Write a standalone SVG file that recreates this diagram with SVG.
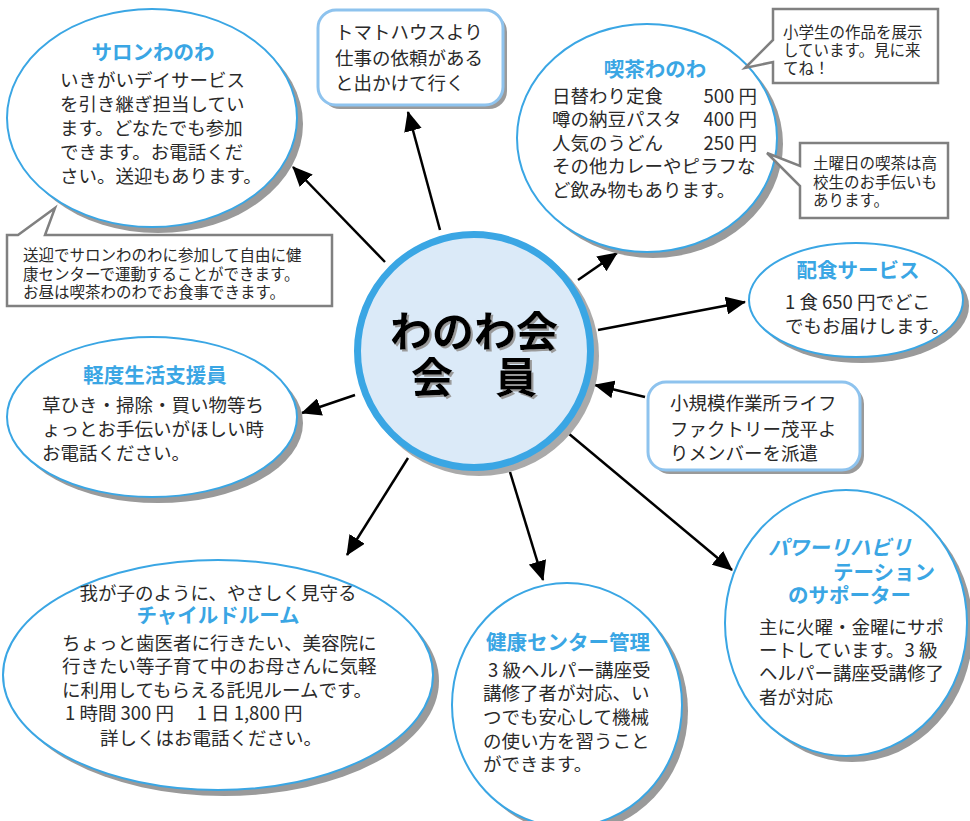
<svg xmlns="http://www.w3.org/2000/svg" width="970" height="821" viewBox="0 0 970 821">
<defs>
<style>
text{font-family:"Noto Sans CJK JP","Noto Sans",sans-serif;}
.body{font-size:18.5px;fill:#2a2a2a;}
.note{font-size:15.5px;fill:#2a2a2a;}
.title{font-size:20.5px;font-weight:700;fill:#3aa6e4;}
.bubble{fill:#fff;stroke:#3aa6e4;stroke-width:2;}
.shadow{fill:#9a9a9a;}
.box{fill:#fff;stroke:#8ec3ee;stroke-width:3;}
.callout{fill:#fff;stroke:#808080;stroke-width:2.5;stroke-linejoin:miter;}
.conn{stroke:#000;stroke-width:2.5;fill:none;marker-end:url(#ah);}
.big{font-size:42px;font-weight:700;fill:#000;filter:url(#ts);}
</style>
<filter id="ts" x="-10%" y="-20%" width="120%" height="140%">
<feDropShadow dx="2" dy="2" stdDeviation="0.6" flood-color="#9a9a9a" flood-opacity="1"/>
</filter>
<marker id="ah" viewBox="0 0 20 18" refX="19" refY="9" markerWidth="20" markerHeight="18" markerUnits="userSpaceOnUse" orient="auto">
<path d="M0,0 L20,9 L0,18 Z" fill="#000"/>
</marker>
</defs>

<g id="connectors">
<line class="conn" x1="385" y1="262" x2="293" y2="167"/>
<line class="conn" x1="440" y1="230" x2="408" y2="112"/>
<line class="conn" x1="578" y1="280" x2="617" y2="253"/>
<line class="conn" x1="598" y1="330" x2="745" y2="302"/>
<line class="conn" x1="645" y1="397" x2="595" y2="385"/>
<line class="conn" x1="355" y1="395" x2="302" y2="413"/>
<line class="conn" x1="408" y1="458" x2="347" y2="555"/>
<line class="conn" x1="510" y1="472" x2="543" y2="580"/>
<line class="conn" x1="568" y1="433" x2="732" y2="570"/>
</g>

<g id="salon">
<ellipse class="shadow" cx="158" cy="124" rx="145" ry="109"/>
<ellipse class="bubble" cx="152" cy="118" rx="145" ry="109"/>
<text class="body"><tspan class="title" x="153" y="60" text-anchor="middle">サロンわのわ</tspan><tspan x="60" y="87">いきがいデイサービス</tspan><tspan x="60" y="111">を引き継ぎ担当してい</tspan><tspan x="60" y="135">ます。どなたでも参加</tspan><tspan x="60" y="159">できます。お電話くだ</tspan><tspan x="60" y="183">さい。送迎もあります。</tspan></text>
</g>

<g id="salon-note">
<path class="callout" d="M7,235 L18,235 L55,208 L45,235 L332,235 L332,306 L7,306 Z"/>
<text class="note"><tspan x="23" y="261">送迎でサロンわのわに参加して自由に健</tspan><tspan x="23" y="280">康センターで運動することができます。</tspan><tspan x="23" y="298">お昼は喫茶わのわでお食事できます。</tspan></text>
</g>

<g id="tomato">
<rect class="shadow" x="322" y="14" width="185" height="95" rx="18"/>
<rect class="box" x="318" y="10" width="185" height="95" rx="18"/>
<text class="body"><tspan x="335" y="39">トマトハウスより</tspan><tspan x="335" y="65">仕事の依頼がある</tspan><tspan x="335" y="90">と出かけて行く</tspan></text>
</g>

<g id="kissa">
<ellipse class="shadow" cx="653" cy="144" rx="130" ry="114"/>
<ellipse class="bubble" cx="647" cy="138" rx="130" ry="114"/>
<text class="body"><tspan class="title" x="655" y="77" text-anchor="middle">喫茶わのわ</tspan><tspan x="552" y="103">日替わり定食</tspan><tspan x="552" y="126">噂の納豆パスタ</tspan><tspan x="552" y="150">人気のうどん</tspan><tspan x="552" y="173">その他カレーやピラフな</tspan><tspan x="552" y="197">ど飲み物もあります。</tspan></text>
<text class="body" text-anchor="end"><tspan x="757" y="103">500 円</tspan><tspan x="757" y="126">400 円</tspan><tspan x="757" y="150">250 円</tspan></text>
</g>

<g id="kissa-note1">
<path class="callout" d="M773,9 L938,9 L938,83 L773,83 L773,62 L745,68 L773,40 Z"/>
<text class="note"><tspan x="783" y="38">小学生の作品を展示</tspan><tspan x="783" y="56">しています。見に来</tspan><tspan x="783" y="74">てね！</tspan></text>
</g>

<g id="kissa-note2">
<path class="callout" d="M800,143 L948,143 L948,218 L800,218 L800,186 L767,153 L800,166 Z"/>
<text class="note"><tspan x="813" y="169">土曜日の喫茶は高</tspan><tspan x="813" y="188">校生のお手伝いも</tspan><tspan x="813" y="206">あります。</tspan></text>
</g>

<g id="haishoku">
<ellipse class="shadow" cx="862" cy="306" rx="107" ry="57"/>
<ellipse class="bubble" cx="856" cy="300" rx="107" ry="57"/>
<text class="body"><tspan class="title" x="858" y="278" text-anchor="middle">配食サービス</tspan><tspan x="785" y="309">1 食 650 円でどこ</tspan><tspan x="785" y="333">でもお届けします。</tspan></text>
</g>

<g id="center">
<circle cx="479" cy="356" r="120" fill="#aaa"/>
<circle cx="474" cy="351" r="116.5" fill="#dbeaf8" stroke="#3aa6e4" stroke-width="7"/>
<text class="big" text-anchor="middle" xml:space="preserve"><tspan x="474" y="347">わのわ会</tspan><tspan x="474" y="393">会　員</tspan></text>
</g>

<g id="keido">
<ellipse class="shadow" cx="158" cy="423" rx="145" ry="80"/>
<ellipse class="bubble" cx="152" cy="417" rx="145" ry="80"/>
<text class="body"><tspan class="title" x="155" y="383" text-anchor="middle">軽度生活支援員</tspan><tspan x="42" y="412">草ひき・掃除・買い物等ち</tspan><tspan x="42" y="436">ょっとお手伝いがほしい時</tspan><tspan x="42" y="460">お電話ください。</tspan></text>
</g>

<g id="lifefactory">
<rect class="shadow" x="652" y="386" width="212" height="88" rx="18"/>
<rect class="box" x="648" y="382" width="212" height="88" rx="18"/>
<text class="body"><tspan x="670" y="410">小規模作業所ライフ</tspan><tspan x="670" y="436">ファクトリー茂平よ</tspan><tspan x="670" y="460">りメンバーを派遣</tspan></text>
</g>

<g id="child">
<ellipse class="shadow" cx="224" cy="681" rx="215" ry="115"/>
<ellipse class="bubble" cx="218" cy="675" rx="215" ry="115"/>
<text class="body" xml:space="preserve"><tspan x="218" y="600" text-anchor="middle">我が子のように、やさしく見守る</tspan><tspan class="title" x="218" y="623" text-anchor="middle">チャイルドルーム</tspan><tspan x="62" y="650">ちょっと歯医者に行きたい、美容院に</tspan><tspan x="62" y="673">行きたい等子育て中のお母さんに気軽</tspan><tspan x="62" y="697">に利用してもらえる託児ルームです。</tspan><tspan x="65" y="720">1 時間 300 円　 1 日 1,800 円</tspan><tspan x="100" y="745">詳しくはお電話ください。</tspan></text>
</g>

<g id="kenko">
<ellipse class="shadow" cx="573" cy="711" rx="115" ry="122"/>
<ellipse class="bubble" cx="567" cy="705" rx="115" ry="122"/>
<text class="body"><tspan class="title" x="568" y="650" text-anchor="middle">健康センター管理</tspan><tspan x="488" y="677">3 級ヘルパー講座受</tspan><tspan x="483" y="700">講修了者が対応、い</tspan><tspan x="483" y="724">つでも安心して機械</tspan><tspan x="483" y="748">の使い方を習うこと</tspan><tspan x="483" y="771">ができます。</tspan></text>
</g>

<g id="powerrehab">
<ellipse class="shadow" cx="852" cy="629" rx="121" ry="133"/>
<ellipse class="bubble" cx="846" cy="623" rx="121" ry="133"/>
<text class="body"><tspan class="title" x="768" y="555" font-style="italic">パワーリハビリ</tspan><tspan class="title" x="833" y="580">テーション</tspan><tspan class="title" x="788" y="603">のサポーター</tspan><tspan x="759" y="634">主に火曜・金曜にサポ</tspan><tspan x="759" y="657">ートしています。3 級</tspan><tspan x="759" y="680">ヘルパー講座受講修了</tspan><tspan x="759" y="704">者が対応</tspan></text>
</g>
</svg>
